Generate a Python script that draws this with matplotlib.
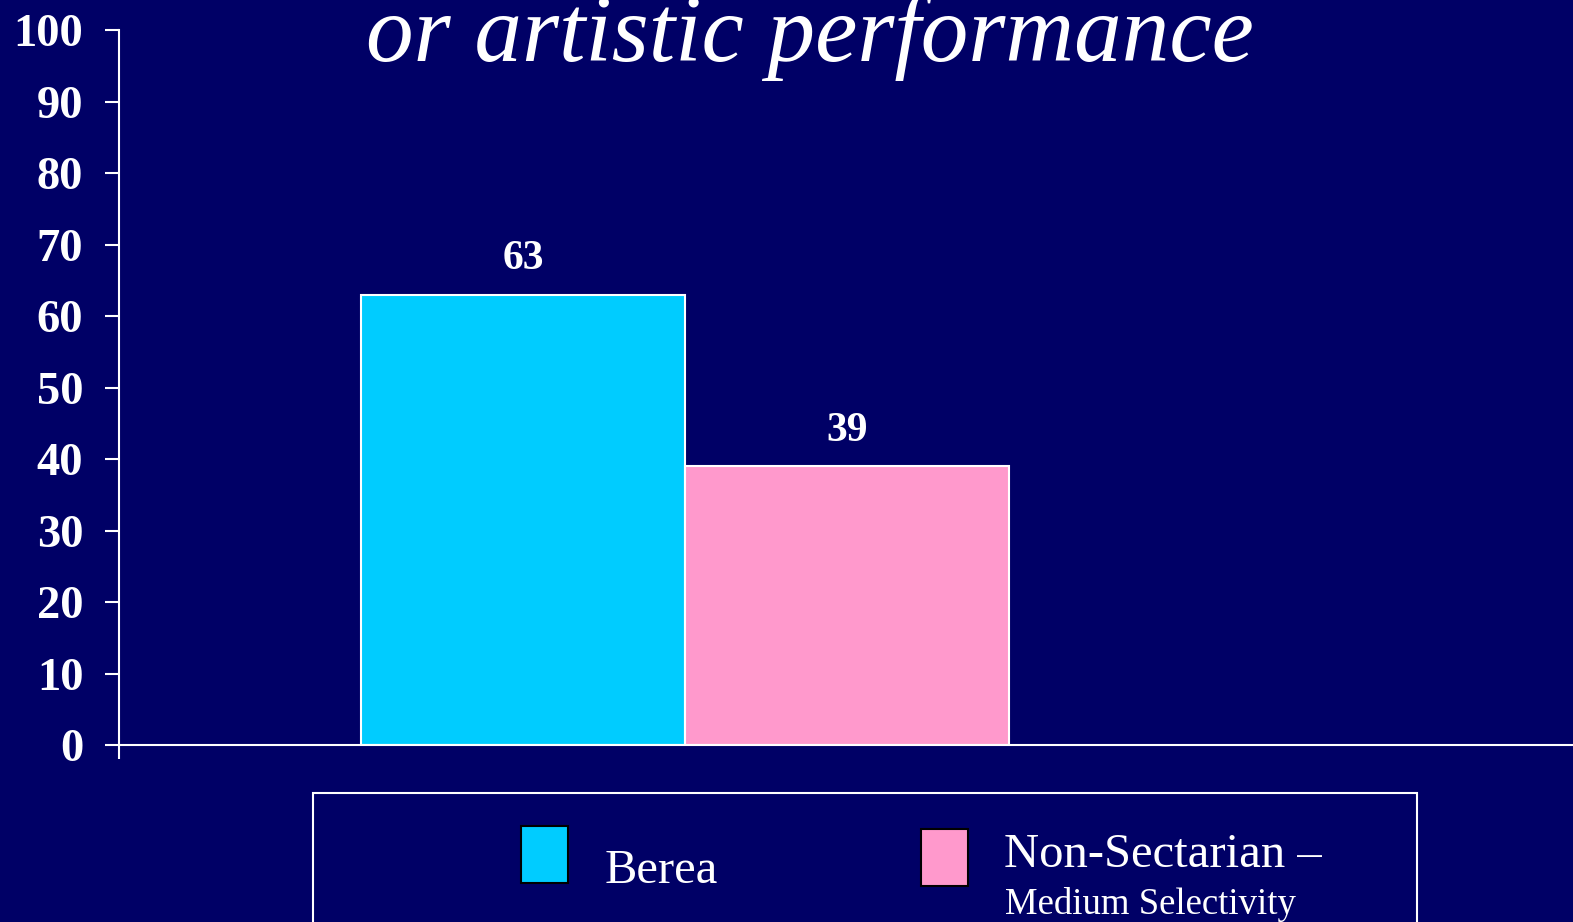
import numpy as np
import matplotlib
matplotlib.use("Agg")
import matplotlib.pyplot as plt
from matplotlib.patches import Rectangle

BG = "#000066"
W, H = 1573, 922
S = 1573 / 1568

series = ["Berea", "Non-Sectarian \u2013"]
series_sub = ["", "Medium Selectivity"]
values = [63, 39]
colors = ["#00CCFF", "#FF99CC"]
yticks = list(range(0, 101, 10))
title = "or artistic performance"

plt.rcParams["font.family"] = ["Liberation Serif", "DejaVu Serif"]


def fx(px):
    return px * S / W


def fy(py):
    return 1 - py * S / H


fig = plt.figure(figsize=(W / 100, H / 100), dpi=100, facecolor=BG)
ax = fig.add_axes([fx(119), fy(743), 1 - fx(119), fy(30) - fy(743)])
ax.set_facecolor(BG)

x = np.arange(len(values)) - 0.5
ax.bar(x, values, width=1.0, color=colors, edgecolor="white", linewidth=1.5)
for xi, v in zip(x, values):
    ax.annotate(str(v), (xi, v), xytext=(0, 12), textcoords="offset points",
                ha="center", va="bottom", color="white", fontsize=30, fontweight="bold")

ax.set_ylim(0, 100)
x0 = (119 - 683) / 323
ax.set_xlim(x0, x0 + (1568 - 119) / 323)
ax.set_yticks(yticks)
ax.set_yticklabels([str(t) for t in yticks], fontsize=33.5, fontweight="bold", color="white")
ax.set_xticks([x0])
ax.set_xticklabels([""])
ax.tick_params(axis="both", direction="out", length=10, width=1.5, color="white")
ax.tick_params(axis="y", pad=16)
for side in ["top", "right"]:
    ax.spines[side].set_visible(False)
for side in ["left", "bottom"]:
    ax.spines[side].set_color("white")
    ax.spines[side].set_linewidth(1.5)

fig.text(fx(807), fy(61), title, ha="center", va="baseline", color="white",
         fontsize=68.5, style="italic")

# legend box (runs off the bottom of the slide)
fig.patches.append(Rectangle((fx(312), fy(960)), fx(1412) - fx(312), fy(790) - fy(960),
                             transform=fig.transFigure, facecolor="none",
                             edgecolor="white", linewidth=1.5))
patch_px = [(519, 823), (918, 826)]
text_px = [(603, 880), (1001, 864)]
for (px, py), (tx, ty), c, name, sub in zip(patch_px, text_px, colors, series, series_sub):
    fig.patches.append(Rectangle((fx(px), fy(py + 57)), fx(47), fy(0) - fy(57),
                                 transform=fig.transFigure, facecolor=c,
                                 edgecolor="black", linewidth=1.5))
    fig.text(fx(tx), fy(ty), name, ha="left", va="baseline", color="white", fontsize=35)
    if sub:
        fig.text(fx(tx + 1), fy(ty + 47), sub, ha="left", va="baseline",
                 color="white", fontsize=26.5)

fig.savefig("out.png", dpi=100, facecolor=BG)
